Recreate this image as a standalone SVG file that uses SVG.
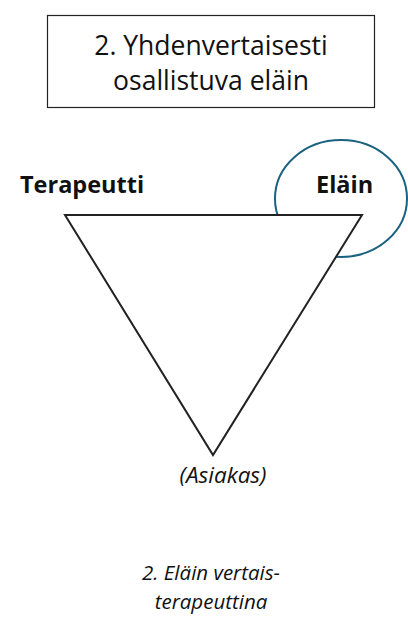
<svg xmlns="http://www.w3.org/2000/svg" width="408" height="617" viewBox="0 0 408 617">
<style>
text{font-family:"Open Sans","Noto Sans","DejaVu Sans",sans-serif;fill:#111}
.t{font-size:26.5px;text-anchor:middle}
.b{font-size:23.5px;font-weight:bold}
.i{font-style:italic;text-anchor:middle}
</style>
<rect width="408" height="617" fill="#fff"/>
<g id="title">
<rect x="47.5" y="15.5" width="327" height="92" fill="#fff" stroke="#222" stroke-width="1.2"/>
<text class="t" x="211" y="55">2. Yhdenvertaisesti</text>
<text class="t" x="211" y="90">osallistuva eläin</text>
</g>
<g id="elain-ellipse">
<ellipse cx="341" cy="198.5" rx="66" ry="58.5" fill="none" stroke="#1a6280" stroke-width="2"/>
</g>
<g id="triangle">
<polygon points="65,215 362,215 213,455" fill="#fff" stroke="#222" stroke-width="2"/>
</g>
<g id="terapeutti"><text class="b" x="20" y="193">Terapeutti</text></g>
<g id="elain"><text class="b" x="316" y="193">Eläin</text></g>
<g id="asiakas"><text class="i" x="223" y="483" font-size="22.5">(Asiakas)</text></g>
<g id="caption">
<text class="i" x="211" y="580" font-size="20.5">2. Eläin vertais-</text>
<text class="i" x="211" y="609" font-size="20.5">terapeuttina</text>
</g>
</svg>
